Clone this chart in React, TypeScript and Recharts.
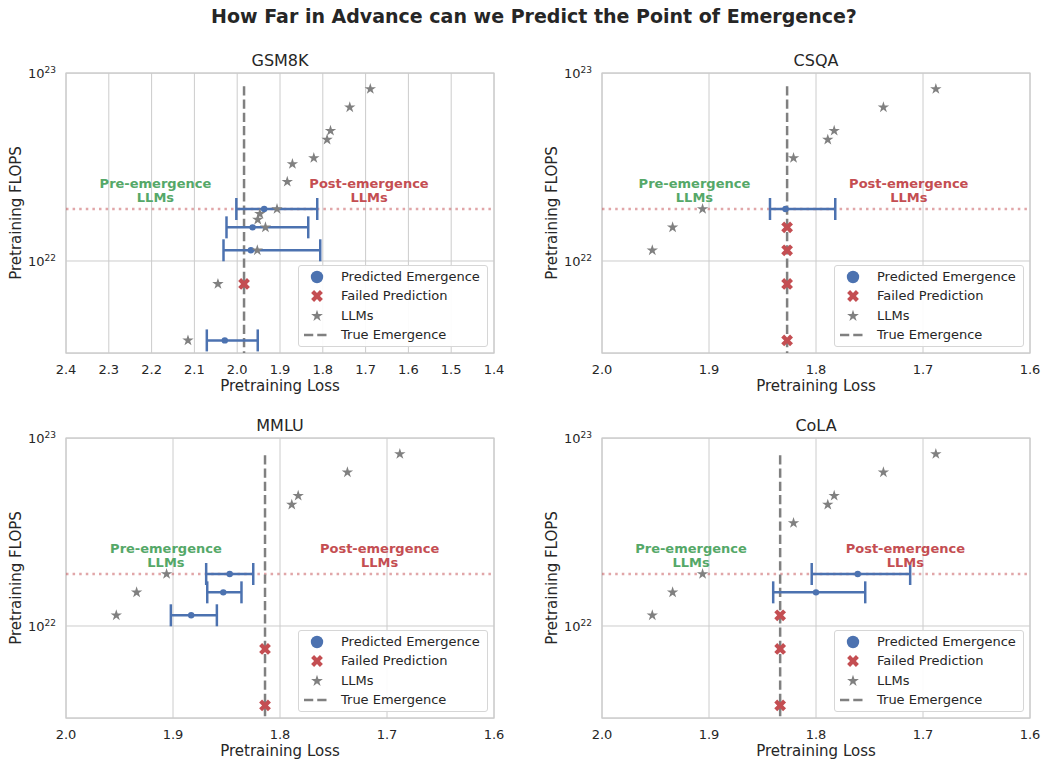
import React from 'react';
import {
  ScatterChart,
  Scatter,
  XAxis,
  YAxis,
  CartesianGrid,
  ErrorBar,
  ReferenceLine,
  ReferenceArea,
  ReferenceDot,
  Legend,
} from 'recharts';

const FONT = '"DejaVu Sans", "Liberation Sans", sans-serif';
const TEXT = '#262626';
const BLUE = '#4C72B0';
const RED = '#C44E52';
const GREEN = '#55A868';
const GRAY = '#808080';
const GRID = '#cccccc';

// ---- shared axis settings ----
const Y_MIN = 3.24e21;
const Y_MAX = 1e23;
const Y_TICKS = [1e22, 1e23];
const THRESHOLD_FLOPS = 1.89e22;
const ANNOTATION_FLOPS = 2.39e22;
const X_TICKS_WIDE = [2.4, 2.3, 2.2, 2.1, 2.0, 1.9, 1.8, 1.7, 1.6, 1.5, 1.4];
const X_TICKS_NARROW = [2.0, 1.9, 1.8, 1.7, 1.6];

// ---- GSM8K ----
const gsm8kLlmLoss = [1.689, 1.737, 1.782, 1.79, 1.821, 1.871, 1.883, 1.907, 1.947, 1.952, 1.934, 1.953, 2.045, 2.115];
const gsm8kLlmFlops = [8.22e22, 6.57e22, 4.93e22, 4.42e22, 3.53e22, 3.28e22, 2.64e22, 1.89e22, 1.78e22, 1.66e22, 1.51e22, 1.14e22, 7.55e21, 3.78e21];
const gsm8kPredLoss = [1.937, 1.964, 1.968, 2.029];
const gsm8kPredLow = [1.813, 1.834, 1.806, 1.952];
const gsm8kPredHigh = [2.002, 2.025, 2.032, 2.071];
const gsm8kPredFlops = [1.89e22, 1.51e22, 1.14e22, 3.78e21];
const gsm8kFailLoss = [1.984];
const gsm8kFailFlops = [7.55e21];
const gsm8kTrueLoss = 1.984;

// ---- CSQA ----
const csqaLlmLoss = [1.688, 1.737, 1.783, 1.789, 1.821, 1.906, 1.934, 1.953];
const csqaLlmFlops = [8.22e22, 6.57e22, 4.93e22, 4.42e22, 3.53e22, 1.89e22, 1.51e22, 1.14e22];
const csqaPredLoss = [1.8285];
const csqaPredLow = [1.782];
const csqaPredHigh = [1.843];
const csqaPredFlops = [1.89e22];
const csqaFailLoss = [1.827, 1.827, 1.827, 1.827];
const csqaFailFlops = [1.51e22, 1.14e22, 7.55e21, 3.78e21];
const csqaTrueLoss = 1.827;

// ---- MMLU ----
const mmluLlmLoss = [1.688, 1.737, 1.783, 1.789, 1.906, 1.934, 1.953];
const mmluLlmFlops = [8.22e22, 6.57e22, 4.93e22, 4.42e22, 1.89e22, 1.51e22, 1.14e22];
const mmluPredLoss = [1.847, 1.853, 1.883];
const mmluPredLow = [1.825, 1.836, 1.859];
const mmluPredHigh = [1.869, 1.868, 1.902];
const mmluPredFlops = [1.89e22, 1.51e22, 1.14e22];
const mmluFailLoss = [1.814, 1.814];
const mmluFailFlops = [7.55e21, 3.78e21];
const mmluTrueLoss = 1.814;

// ---- CoLA ----
const colaLlmLoss = [1.688, 1.737, 1.783, 1.789, 1.821, 1.906, 1.934, 1.953];
const colaLlmFlops = [8.22e22, 6.57e22, 4.93e22, 4.42e22, 3.53e22, 1.89e22, 1.51e22, 1.14e22];
const colaPredLoss = [1.761, 1.8];
const colaPredLow = [1.712, 1.754];
const colaPredHigh = [1.804, 1.84];
const colaPredFlops = [1.89e22, 1.51e22];
const colaFailLoss = [1.8335, 1.8335, 1.8335];
const colaFailFlops = [1.14e22, 7.55e21, 3.78e21];
const colaTrueLoss = 1.8335;

// top end of the "true emergence" line and the region label positions
const trueLineTop = [8.5e22, 8.5e22, 8.1e22, 8.1e22];
const preLabelLoss = [2.191, 1.9136, 1.9066, 1.9168];
const postLabelLoss = [1.692, 1.7133, 1.7069, 1.7165];

const LEGEND_LABELS = ['Predicted Emergence', 'Failed Prediction', 'LLMs', 'True Emergence'];

type PanelSpec = {
  title: string;
  xTicks: number[];
  llmLoss: number[];
  llmFlops: number[];
  predLoss: number[];
  predLow: number[];
  predHigh: number[];
  predFlops: number[];
  failLoss: number[];
  failFlops: number[];
  trueLoss: number;
  trueTop: number;
  preX: number;
  postX: number;
};

const panels: PanelSpec[] = [
  { title: 'GSM8K', xTicks: X_TICKS_WIDE, llmLoss: gsm8kLlmLoss, llmFlops: gsm8kLlmFlops, predLoss: gsm8kPredLoss, predLow: gsm8kPredLow, predHigh: gsm8kPredHigh, predFlops: gsm8kPredFlops, failLoss: gsm8kFailLoss, failFlops: gsm8kFailFlops, trueLoss: gsm8kTrueLoss, trueTop: trueLineTop[0], preX: preLabelLoss[0], postX: postLabelLoss[0] },
  { title: 'CSQA', xTicks: X_TICKS_NARROW, llmLoss: csqaLlmLoss, llmFlops: csqaLlmFlops, predLoss: csqaPredLoss, predLow: csqaPredLow, predHigh: csqaPredHigh, predFlops: csqaPredFlops, failLoss: csqaFailLoss, failFlops: csqaFailFlops, trueLoss: csqaTrueLoss, trueTop: trueLineTop[1], preX: preLabelLoss[1], postX: postLabelLoss[1] },
  { title: 'MMLU', xTicks: X_TICKS_NARROW, llmLoss: mmluLlmLoss, llmFlops: mmluLlmFlops, predLoss: mmluPredLoss, predLow: mmluPredLow, predHigh: mmluPredHigh, predFlops: mmluPredFlops, failLoss: mmluFailLoss, failFlops: mmluFailFlops, trueLoss: mmluTrueLoss, trueTop: trueLineTop[2], preX: preLabelLoss[2], postX: postLabelLoss[2] },
  { title: 'CoLA', xTicks: X_TICKS_NARROW, llmLoss: colaLlmLoss, llmFlops: colaLlmFlops, predLoss: colaPredLoss, predLow: colaPredLow, predHigh: colaPredHigh, predFlops: colaPredFlops, failLoss: colaFailLoss, failFlops: colaFailFlops, trueLoss: colaTrueLoss, trueTop: trueLineTop[3], preX: preLabelLoss[3], postX: postLabelLoss[3] },
];

// ---- layout of the 2x2 grid ----
const PLOT_W = 428;
const PLOT_H = 280;
const Y_AXIS_W = 66;
const M_TOP = 30;
const CHART_W = Y_AXIS_W + PLOT_W + 12;
const CHART_H = M_TOP + PLOT_H + 50;
const plotLefts = [66, 602, 66, 602];
const plotTops = [73, 73, 438, 438];

// ---- marker shapes ----
function starPoints(cx: number, cy: number, R: number) {
  const r = R * 0.381966;
  const pts: string[] = [];
  for (let i = 0; i < 10; i++) {
    const a = -Math.PI / 2 + (i * Math.PI) / 5;
    const rad = i % 2 === 0 ? R : r;
    pts.push(`${cx + rad * Math.cos(a)},${cy + rad * Math.sin(a)}`);
  }
  return pts.join(' ');
}

const PLUS = [
  [-1, -3], [1, -3], [1, -1], [3, -1], [3, 1], [1, 1],
  [1, 3], [-1, 3], [-1, 1], [-3, 1], [-3, -1], [-1, -1],
];
function crossPoints(cx: number, cy: number, size: number) {
  const k = size / 6;
  return PLUS.map(([x, y]) => {
    const rx = ((x - y) / Math.SQRT2) * k;
    const ry = ((x + y) / Math.SQRT2) * k;
    return `${cx + rx},${cy + ry}`;
  }).join(' ');
}

const dotShape = (p: any) => <circle cx={p.cx} cy={p.cy} r={3.2} fill={BLUE} />;
const starShape = (p: any) => <polygon points={starPoints(p.cx, p.cy, 6)} fill={GRAY} />;
const crossShape = (p: any) => <polygon points={crossPoints(p.cx, p.cy, 12.5)} fill={RED} />;

// ---- ticks ----
const XTick = (props: any) => {
  const { x, y, payload } = props;
  return (
    <text x={x} y={y + 20.5} textAnchor="middle" fill={TEXT} fontFamily={FONT} fontSize={13}>
      {Number(payload.value).toFixed(1)}
    </text>
  );
};

const YTick = (props: any) => {
  const { x, y, payload } = props;
  const exp = Math.round(Math.log10(payload.value));
  return (
    <text x={x - 10} y={y + 5.4} textAnchor="end" fill={TEXT} fontFamily={FONT} fontSize={13}>
      10
      <tspan dy={-5.8} fontSize={9}>
        {exp}
      </tspan>
    </text>
  );
};

// ---- region labels ----
const regionLabel = (lines: string[], color: string) => (p: any) => (
  <text textAnchor="middle" fill={color} fontFamily={FONT} fontSize={13} fontWeight="bold">
    <tspan x={p.cx} y={p.cy - 2.3}>
      {lines[0]}
    </tspan>
    <tspan x={p.cx} y={p.cy + 11.7}>
      {lines[1]}
    </tspan>
  </text>
);

// ---- legend ----
function LegendIcon({ i }: { i: number }) {
  const cx = 19;
  const cy = 10;
  if (i === 0) return <circle cx={cx} cy={cy} r={6.2} fill={BLUE} />;
  if (i === 1) return <polygon points={crossPoints(cx, cy, 12.5)} fill={RED} />;
  if (i === 2) return <polygon points={starPoints(cx, cy, 6.2)} fill={GRAY} />;
  return <line x1={6} y1={cy} x2={32} y2={cy} stroke={GRAY} strokeWidth={2.5} strokeDasharray="9.25 4" />;
}

const LegendBox = () => (
  <div
    style={{
      width: 189.5,
      height: 81.5,
      boxSizing: 'border-box',
      border: '1px solid #d6d6d6',
      borderRadius: 3,
      background: 'rgba(255,255,255,0.92)',
      position: 'relative',
      fontFamily: FONT,
      fontSize: 13,
      color: TEXT,
    }}
  >
    {LEGEND_LABELS.map((label, i) => (
      <div key={label} style={{ position: 'absolute', left: -1, top: 0.5 + i * 19.5, width: 188, height: 20 }}>
        <svg width={40} height={20} style={{ position: 'absolute', left: 0, top: 0 }}>
          <LegendIcon i={i} />
        </svg>
        <span style={{ position: 'absolute', left: 43, top: 0, lineHeight: '20px', whiteSpace: 'nowrap' }}>{label}</span>
      </div>
    ))}
  </div>
);

function Panel({ spec, idx }: { spec: PanelSpec; idx: number }) {
  const xMin = Math.min(...spec.xTicks);
  const xMax = Math.max(...spec.xTicks);
  const llm = spec.llmLoss.map((loss, i) => ({ loss, flops: spec.llmFlops[i] }));
  const pred = spec.predLoss.map((loss, i) => ({
    loss,
    flops: spec.predFlops[i],
    err: [loss - spec.predLow[i], spec.predHigh[i] - loss],
  }));
  const fail = spec.failLoss.map((loss, i) => ({ loss, flops: spec.failFlops[i] }));
  const left = plotLefts[idx] - Y_AXIS_W;
  const top = plotTops[idx] - M_TOP;

  return (
    <div style={{ position: 'absolute', left, top, width: CHART_W, height: CHART_H }}>
      <ScatterChart width={CHART_W} height={CHART_H} margin={{ top: M_TOP, right: 12, bottom: 20, left: 0 }}>
        <CartesianGrid stroke={GRID} strokeWidth={1} />
        <XAxis
          type="number"
          dataKey="loss"
          domain={[xMin, xMax]}
          reversed
          allowDataOverflow
          ticks={spec.xTicks}
          interval={0}
          axisLine={false}
          tickLine={false}
          tickSize={0}
          tickMargin={0}
          height={30}
          tick={XTick}
        />
        <YAxis
          type="number"
          dataKey="flops"
          scale="log"
          domain={[Y_MIN, Y_MAX]}
          allowDataOverflow
          ticks={Y_TICKS}
          interval={0}
          axisLine={false}
          tickLine={false}
          tickSize={0}
          tickMargin={0}
          width={Y_AXIS_W}
          tick={YTick}
        />
        <ReferenceArea x1={xMin} x2={xMax} y1={Y_MIN} y2={Y_MAX} fill="none" fillOpacity={0} stroke={GRID} strokeWidth={1.25} />
        <ReferenceLine y={THRESHOLD_FLOPS} stroke={RED} strokeOpacity={0.5} strokeWidth={2.5} strokeDasharray="2.5 4.1" />
        <ReferenceLine
          segment={[
            { x: spec.trueLoss, y: spec.trueTop },
            { x: spec.trueLoss, y: Y_MIN },
          ]}
          stroke={GRAY}
          strokeWidth={2.5}
          strokeDasharray="9.25 4"
        />
        <ReferenceDot x={spec.preX} y={ANNOTATION_FLOPS} r={0} shape={regionLabel(['Pre-emergence', 'LLMs'], GREEN)} />
        <ReferenceDot x={spec.postX} y={ANNOTATION_FLOPS} r={0} shape={regionLabel(['Post-emergence', 'LLMs'], RED)} />
        <Scatter data={pred} shape={dotShape} isAnimationActive={false}>
          <ErrorBar dataKey="err" direction="x" width={11} strokeWidth={2.5} stroke={BLUE} />
        </Scatter>
        <Scatter data={llm} shape={starShape} isAnimationActive={false} />
        <Scatter data={fail} shape={crossShape} isAnimationActive={false} />
        <Legend
          layout="vertical"
          align="center"
          verticalAlign="middle"
          content={() => <LegendBox />}
          wrapperStyle={{ left: Y_AXIS_W + PLOT_W - 6.5 - 189.5, top: M_TOP + PLOT_H - 6.5 - 81.5, width: 189.5, height: 81.5 }}
        />
      </ScatterChart>
    </div>
  );
}

function CenteredText({ x, y, size, bold, children }: { x: number; y: number; size: number; bold?: boolean; children: React.ReactNode }) {
  return (
    <div
      style={{
        position: 'absolute',
        left: x - 400,
        width: 800,
        top: y - 0.48 * size,
        fontSize: size,
        lineHeight: `${size}px`,
        textAlign: 'center',
        fontWeight: bold ? 'bold' : 'normal',
        whiteSpace: 'nowrap',
        color: TEXT,
        fontFamily: FONT,
      }}
    >
      {children}
    </div>
  );
}

function RotatedText({ x, y, size, children }: { x: number; y: number; size: number; children: React.ReactNode }) {
  return (
    <div
      style={{
        position: 'absolute',
        left: x,
        top: y,
        transform: 'translate(-50%, -50%) rotate(-90deg)',
        fontSize: size,
        lineHeight: `${size}px`,
        whiteSpace: 'nowrap',
        color: TEXT,
        fontFamily: FONT,
      }}
    >
      {children}
    </div>
  );
}

export default function App() {
  return (
    <div style={{ position: 'absolute', left: 0, top: 0, width: 1042, height: 761, background: '#ffffff', overflow: 'hidden', fontFamily: FONT }}>
      <CenteredText x={534} y={16} size={19} bold>
        How Far in Advance can we Predict the Point of Emergence?
      </CenteredText>
      {panels.map((spec, idx) => {
        const cx = plotLefts[idx] + PLOT_W / 2;
        const t = plotTops[idx];
        return (
          <React.Fragment key={spec.title}>
            <CenteredText x={cx} y={t - 12} size={16}>
              {spec.title}
            </CenteredText>
            <CenteredText x={cx} y={t + PLOT_H + 33} size={15}>
              Pretraining Loss
            </CenteredText>
            <RotatedText x={plotLefts[idx] - 50} y={t + PLOT_H / 2} size={15}>
              Pretraining FLOPS
            </RotatedText>
            <Panel spec={spec} idx={idx} />
          </React.Fragment>
        );
      })}
    </div>
  );
}
